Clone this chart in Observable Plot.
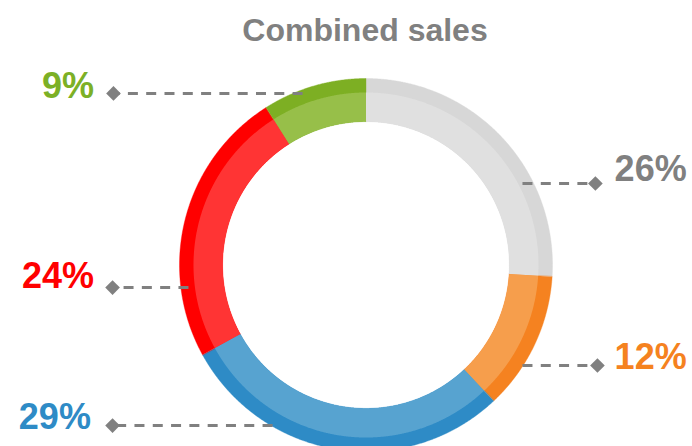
<!DOCTYPE html>
<html><head><meta charset="utf-8">
<script src="https://cdn.jsdelivr.net/npm/d3@7"></script>
<script src="https://cdn.jsdelivr.net/npm/@observablehq/plot@0.6"></script>
<style>
html,body{margin:0;padding:0;background:#fff;overflow:hidden}
#title{height:50px;box-sizing:border-box;padding-top:14px;padding-left:38px;text-align:center;font:bold 32px/32px "Liberation Sans",Arial,sans-serif;color:#808080;white-space:nowrap}
</style></head><body>
<div id="title">Combined sales</div>
<div id="chart"></div>
<script>
// ---- data ----
const categories = ["Grey", "Orange", "Blue", "Red", "Green"];
const values = [26, 12, 29, 24, 9];
const labels = ["26%", "12%", "29%", "24%", "9%"];

// ---- styles ----
const darkColors = ["#d7d7d7", "#f58220", "#2e8bc6", "#ff0000", "#7daf23"];
const lightColors = ["#e0e0e0", "#f69e4c", "#57a3d0", "#ff3434", "#97bf49"];
const labelColors = ["#808080", "#f5821f", "#2e8bc6", "#ff0000", "#7cb026"];

// ---- layout (in radius units, ring centre at 0,0) ----
const rOuter = 1, rBand = 0.925, rInner = 0.769;
const leaderY = [0.437, -0.539, -0.861, -0.121, 0.920];
const leaderStartX = [0.839, 0.839, -0.501, -0.952, -0.340];
const diamondX = [1.230, 1.241, -1.359, -1.359, -1.354];
const labelX = [1.333, 1.333, -1.475, -1.458, -1.458];
const labelBaseY = [0.448, -0.555, -0.882, -0.126, 0.893];

const W = 692, H = 396, U = 186.5, CX = 365.5, CY = 214.5;

const total = d3.sum(values);
let acc = 0;
const slices = values.map((v, i) => {
  const a0 = acc / total * 2 * Math.PI;
  acc += v;
  const a1 = acc / total * 2 * Math.PI;
  return {i, a0, a1};
});

function ring(s, r0, r1) {
  const pts = [];
  const n = Math.max(8, Math.ceil((s.a1 - s.a0) / (Math.PI / 720)));
  for (let k = 0; k <= n; k++) {
    const a = s.a0 + (s.a1 - s.a0) * k / n;
    pts.push({x: r1 * Math.sin(a), y: r1 * Math.cos(a)});
  }
  for (let k = n; k >= 0; k--) {
    const a = s.a0 + (s.a1 - s.a0) * k / n;
    pts.push({x: r0 * Math.sin(a), y: r0 * Math.cos(a)});
  }
  return pts;
}

const marks = [];
slices.forEach(s => {
  marks.push(Plot.line(ring(s, rInner, rOuter), {x: "x", y: "y", fill: darkColors[s.i], stroke: darkColors[s.i], strokeWidth: 0.4, curve: "linear-closed"}));
});
slices.forEach(s => {
  marks.push(Plot.line(ring(s, rInner, rBand), {x: "x", y: "y", fill: lightColors[s.i], stroke: "none", curve: "linear-closed"}));
});

const leaders = values.map((v, i) => ({
  x1: leaderStartX[i], x2: diamondX[i], y: leaderY[i],
  lx: labelX[i], ly: labelBaseY[i], label: labels[i], color: labelColors[i],
  anchor: labelX[i] > 0 ? "start" : "end"
}));

marks.push(Plot.link(leaders, {x1: "x1", x2: "x2", y1: "y", y2: "y", stroke: "#808080", strokeWidth: 3, strokeDasharray: "10,8.3"}));
marks.push(Plot.dot(leaders, {x: "x2", y: "y", symbol: "diamond2", r: 6.6, fill: "#808080", stroke: "none"}));
["start", "end"].forEach(anchor => {
  marks.push(Plot.text(leaders.filter(d => d.anchor === anchor), {
    x: "lx", y: "ly", text: "label", fill: d => d.color, textAnchor: anchor, lineAnchor: "bottom",
    fontSize: 36, fontWeight: "bold", fontFamily: "'Liberation Sans', Arial, sans-serif"
  }));
});

const chart = Plot.plot({
  width: W, height: H,
  marginLeft: 0, marginRight: 0, marginTop: 0, marginBottom: 0,
  x: {axis: null, domain: [-CX / U, (W - CX) / U], range: [0, W]},
  y: {axis: null, domain: [-(H - CY) / U, CY / U], range: [H, 0]},
  color: {type: "identity"},
  style: {background: "#fff", overflow: "hidden"},
  marks
});
document.getElementById("chart").appendChild(chart);
</script>
</body></html>
